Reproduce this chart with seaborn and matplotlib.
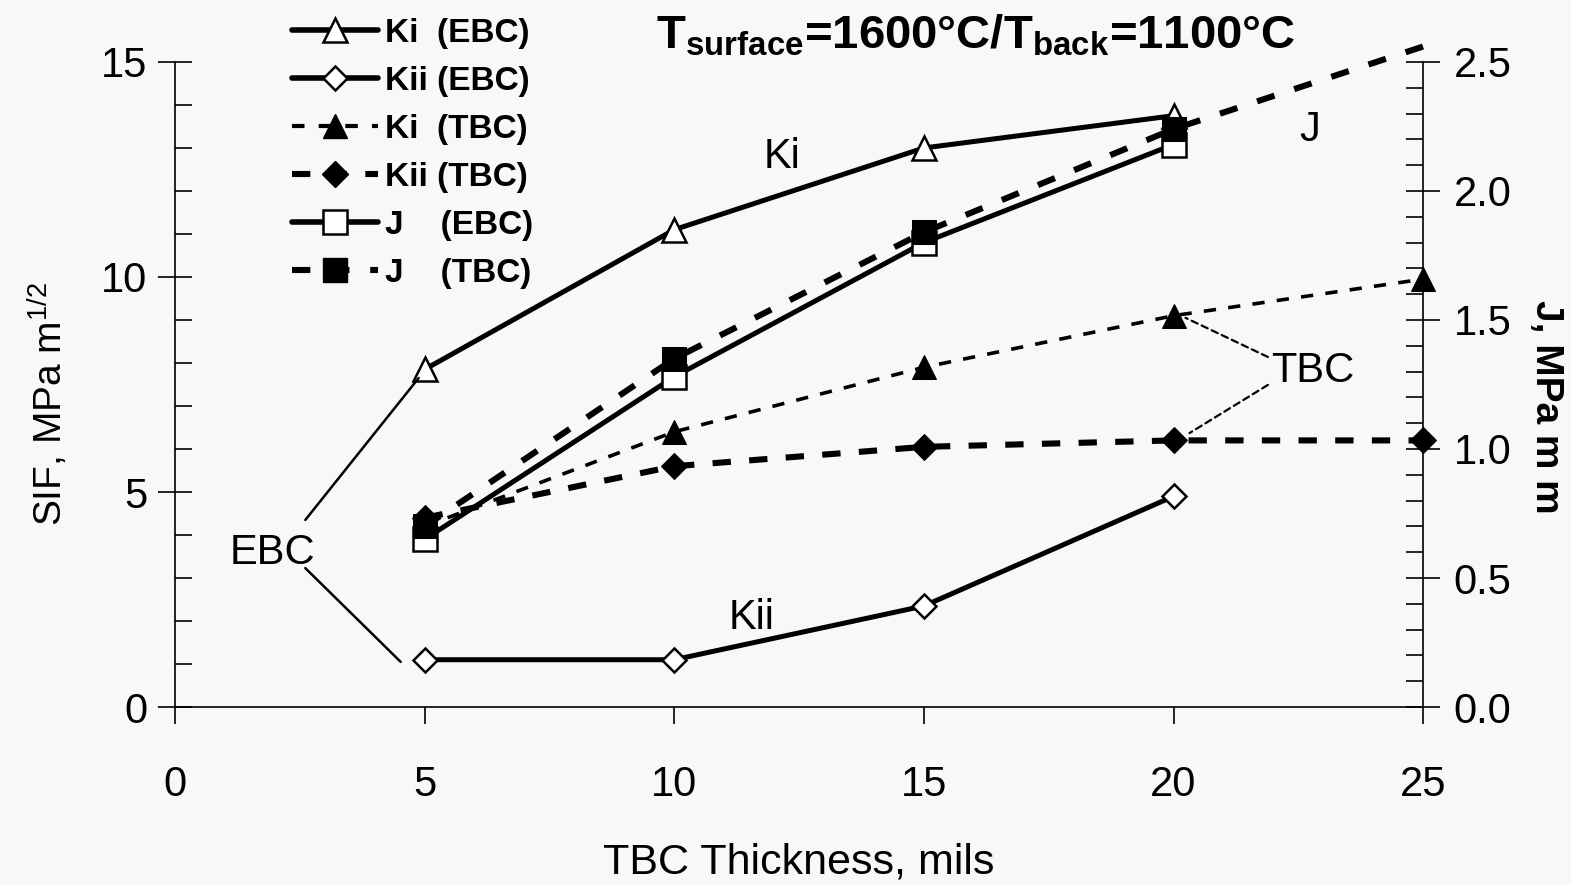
import numpy as np
import pandas as pd
import matplotlib
matplotlib.use("Agg")
import matplotlib.pyplot as plt
from matplotlib.lines import Line2D
from matplotlib.ticker import MultipleLocator, FormatStrFormatter
import seaborn as sns

# data
thickness = [5, 10, 15, 20, 25]
ki_ebc = [7.85, 11.1, 13.0, 13.75]
kii_ebc = [1.1, 1.1, 2.35, 4.9]
ki_tbc = [4.2, 6.4, 7.9, 9.1, 9.95]
kii_tbc = [4.4, 5.6, 6.05, 6.2, 6.2]
j_ebc = [0.65, 1.28, 1.80, 2.18]
j_tbc = [0.70, 1.35, 1.84, 2.24, 2.56]

sns.set_style("ticks")
plt.rcParams['font.family'] = ['Liberation Sans', 'DejaVu Sans']
plt.rcParams['mathtext.fontset'] = 'custom'
plt.rcParams['mathtext.rm'] = 'Liberation Sans'
plt.rcParams['mathtext.it'] = 'Liberation Sans'
plt.rcParams['mathtext.bf'] = 'Liberation Sans:bold'
for k in ('text.color', 'axes.labelcolor', 'xtick.color', 'ytick.color', 'axes.edgecolor'):
    plt.rcParams[k] = 'black'

bg = '#f8f8f8'
fig = plt.figure(figsize=(15.71, 8.85), dpi=100, facecolor=bg)
ax = fig.add_axes([0.1114, 0.2011, 0.7945, 0.7289], facecolor=bg)
ax2 = ax.twinx()

x4 = thickness[:4]
common = dict(color='black', markeredgecolor='black', clip_on=False, legend=False)
lw_solid = 3.6

sns.lineplot(x=x4, y=ki_ebc, ax=ax, marker='^', markersize=17, markerfacecolor='white',
             markeredgewidth=1.8, linewidth=lw_solid, **common)
sns.lineplot(x=x4, y=kii_ebc, ax=ax, marker='D', markersize=12, markerfacecolor='white',
             markeredgewidth=1.8, linewidth=lw_solid, **common)
sns.lineplot(x=thickness, y=ki_tbc, ax=ax, marker='^', markersize=17, markerfacecolor='black',
             linewidth=2.6, linestyle=(0, (3.4, 3.4)), **common)
sns.lineplot(x=thickness, y=kii_tbc, ax=ax, marker='D', markersize=13, markerfacecolor='black',
             linewidth=4.4, linestyle=(0, (3.0, 3.0)), **common)
sns.lineplot(x=x4, y=j_ebc, ax=ax2, marker='s', markersize=17, markerfacecolor='white',
             markeredgewidth=1.8, linewidth=lw_solid, **common)
sns.lineplot(x=thickness, y=j_tbc, ax=ax2, marker='s', markersize=17, markerfacecolor='black',
             linewidth=4.4, linestyle=(0, (3.0, 3.4)), markevery=[0, 1, 2, 3], **common)

ax.set_xlim(0, 25)
ax.set_ylim(0, 15)
ax2.set_ylim(0, 2.5)

ax.xaxis.set_major_locator(MultipleLocator(5))
ax.yaxis.set_major_locator(MultipleLocator(5))
ax.yaxis.set_minor_locator(MultipleLocator(1))
ax2.yaxis.set_major_locator(MultipleLocator(0.5))
ax2.yaxis.set_minor_locator(MultipleLocator(0.1))
ax2.yaxis.set_major_formatter(FormatStrFormatter('%.1f'))

fs = 30
ax.tick_params(axis='x', direction='out', length=12, width=1.2, labelsize=fs, pad=30)
ax.tick_params(axis='y', which='major', direction='inout', length=24, width=1.2, labelsize=fs, pad=8)
ax.tick_params(axis='y', which='minor', direction='in', length=12, width=1.2)
ax2.tick_params(axis='y', which='major', direction='inout', length=24, width=1.2, labelsize=fs, pad=10)
ax2.tick_params(axis='y', which='minor', direction='in', length=12, width=1.2)

for a in (ax, ax2):
    a.spines['top'].set_visible(False)
    for s in ('left', 'right', 'bottom'):
        a.spines[s].set_linewidth(1.2)
ax.spines['right'].set_visible(False)
ax2.spines['left'].set_visible(False)
ax2.spines['bottom'].set_visible(False)

ax.set_xlabel("TBC Thickness, mils", fontsize=31, labelpad=27)
ax.set_ylabel("SIF, MPa m$^{1/2}$", fontsize=28)
ax.yaxis.set_label_coords(-0.084, 0.47)
ax2.set_ylabel("J, MPa m m", fontsize=fs - 2, fontweight='bold', rotation=270)
ax2.yaxis.set_label_coords(1.113, 0.465)

fig.text(0.621, 0.96, r"T$_{\mathbf{surface}}$=1600°C/T$_{\mathbf{back}}$=1100°C",
         fontsize=34, fontweight='bold', ha='center', va='center')

# curve labels and leader lines
ax.text(12.15, 12.8, "Ki", fontsize=fs, ha='center', va='center')
ax.text(11.55, 2.07, "Kii", fontsize=fs, ha='center', va='center')
ax2.text(22.73, 13.42 / 6, "J", fontsize=fs, ha='center', va='center')
ax.text(1.95, 3.58, "EBC", fontsize=fs, ha='center', va='center')
ax.text(22.79, 7.81, "TBC", fontsize=fs, ha='center', va='center')

solid = dict(arrowstyle='-', lw=1.8, color='black', shrinkA=0, shrinkB=0)
dash = dict(arrowstyle='-', lw=1.6, color='black', shrinkA=0, shrinkB=0, linestyle=(0, (3, 2)))
ax.annotate("", xy=(4.88, 7.65), xytext=(2.61, 4.35), arrowprops=solid)
ax.annotate("", xy=(4.52, 1.05), xytext=(2.61, 3.23), arrowprops=solid)
ax.annotate("", xy=(20.24, 9.05), xytext=(21.89, 8.14), arrowprops=dash)
ax.annotate("", xy=(20.32, 6.37), xytext=(21.89, 7.49), arrowprops=dash)

handles = [
    Line2D([], [], color='black', lw=4, marker='^', ms=17, mfc='white', mec='black', mew=1.8),
    Line2D([], [], color='black', lw=4, marker='D', ms=12, mfc='white', mec='black', mew=1.8),
    Line2D([], [], color='black', lw=3, ls=(0, (3.0, 3.4)), marker='^', ms=17, mfc='black', mec='black'),
    Line2D([], [], color='black', lw=4.4, ls=(0, (3.0, 3.0)), marker='D', ms=13, mfc='black', mec='black'),
    Line2D([], [], color='black', lw=4, marker='s', ms=17, mfc='white', mec='black', mew=1.8),
    Line2D([], [], color='black', lw=4.4, ls=(0, (3.0, 3.4)), marker='s', ms=17, mfc='black', mec='black'),
]
labels = ["Ki  (EBC)", "Kii (EBC)", "Ki  (TBC)", "Kii (TBC)", "J    (EBC)", "J    (TBC)"]
fig.legend(handles, labels, loc='upper left', bbox_to_anchor=(0.1857, 0.980), frameon=False,
           prop={'weight': 'bold', 'size': 24}, handlelength=2.6, handletextpad=0.2,
           labelspacing=0.51, borderpad=0, borderaxespad=0)

fig.savefig("out.png", dpi=100, facecolor=bg)
